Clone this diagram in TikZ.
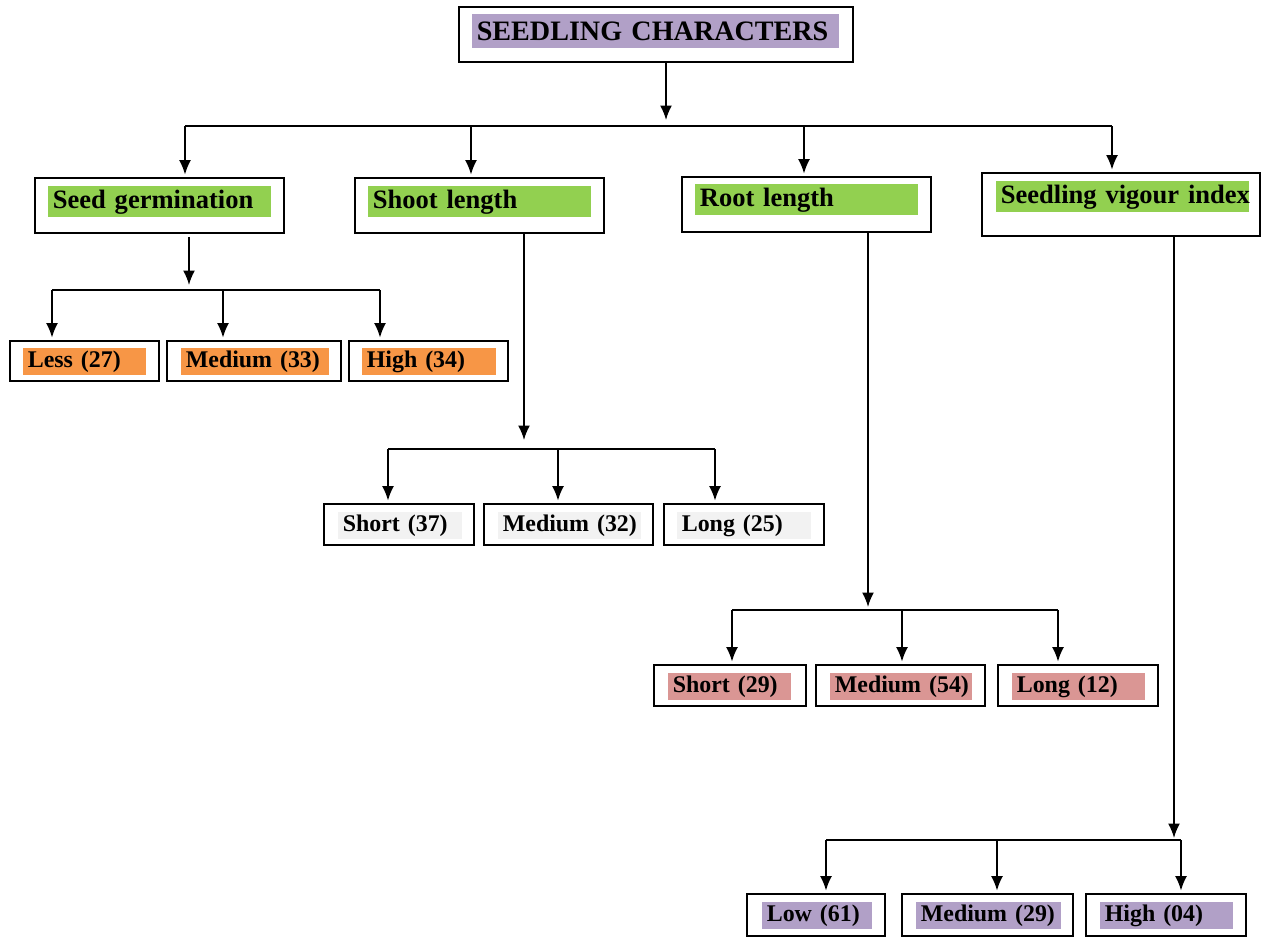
\documentclass[tikz,border=0pt]{standalone}
\usepackage{fontspec}
\setmainfont{Liberation Serif}
\usepackage{tikz}
\usetikzlibrary{positioning,arrows.meta}
\definecolor{headpurple}{HTML}{B1A0C7}
\definecolor{traitgreen}{HTML}{92D050}
\definecolor{gradeorange}{HTML}{F79646}
\definecolor{gradegrey}{HTML}{F2F2F2}
\definecolor{gradepink}{HTML}{DA9694}
\tikzset{
  flowarrow/.style={-{Latex[length=2.9mm, width=2.4mm]}, line width=1pt, shorten >=1.5pt},
  barline/.style={line width=1pt},
  outerbox/.style={draw, line width=0.9pt, fill=white, inner sep=0pt},
  tag/.style={anchor=north west, inner xsep=0.09cm, inner ysep=0pt, align=left,
    execute at begin node={\hyphenpenalty=10000\relax}},
  headtag/.style={tag, fill=headpurple, minimum height=0.68cm, font=\fontsize{16}{18}\selectfont\bfseries},
  traittag/.style={tag, fill=traitgreen, minimum height=0.62cm, font=\fontsize{15.1}{17}\selectfont\bfseries},
  gradetag/.style={tag, minimum height=0.53cm, font=\fontsize{13.6}{15}\selectfont\bfseries}
}

\begin{document}
\begin{tikzpicture}[x=0.02cm, y=-0.02cm, >=Latex]
  \useasboundingbox (0,0) rectangle (1262,937);
  % title
  \node[outerbox, minimum width=7.88cm, minimum height=1.10cm] (top) at (656,34.5) {};
  \node[headtag, text width=7.16cm] (top-t) at (472,14) {SEEDLING~CHARACTERS};

  % characters
  \node[outerbox, minimum width=4.98cm, minimum height=1.10cm] (sg) at (159.5,205.5) {};
  \node[outerbox, minimum width=4.98cm, minimum height=1.10cm] (sl) at (479.5,205.5) {};
  \node[outerbox, minimum width=4.98cm, minimum height=1.10cm] (rl) at (806.5,204.5) {};
  \node[outerbox, minimum width=5.56cm, minimum height=1.26cm] (svi) at (1121,204.5) {};
  \node[traittag, text width=4.28cm] (sg-t) at (48,186) {Seed~germination};
  \node[traittag, text width=4.28cm] (sl-t) at (368,186) {Shoot~length};
  \node[traittag, text width=4.28cm] (rl-t) at (695,184) {Root~length};
  \node[traittag, text width=4.88cm] (svi-t) at (996,181) {Seedling~vigour~index};

  % seed germination classes
  \node[outerbox, minimum width=2.98cm, minimum height=0.80cm] (sgless) at (84.5,361) {};
  \node[outerbox, minimum width=3.48cm, minimum height=0.80cm] (sgmed) at (254,361) {};
  \node[outerbox, minimum width=3.18cm, minimum height=0.80cm] (sghigh) at (428.5,361) {};
  \node[gradetag, fill=gradeorange, text width=2.28cm] (sgless-t) at (23,348) {Less~(27)};
  \node[gradetag, fill=gradeorange, text width=2.78cm] (sgmed-t) at (181,348) {Medium~(33)};
  \node[gradetag, fill=gradeorange, text width=2.50cm] (sghigh-t) at (362,348) {High~(34)};

  % shoot length classes
  \node[outerbox, minimum width=3.00cm, minimum height=0.82cm] (slshort) at (399,524.5) {};
  \node[outerbox, minimum width=3.38cm, minimum height=0.82cm] (slmed) at (568.5,524.5) {};
  \node[outerbox, minimum width=3.20cm, minimum height=0.82cm] (sllong) at (744,524.5) {};
  \node[gradetag, fill=gradegrey, text width=2.30cm] (slshort-t) at (338,512) {Short~(37)};
  \node[gradetag, fill=gradegrey, text width=2.68cm] (slmed-t) at (498,512) {Medium~(32)};
  \node[gradetag, fill=gradegrey, text width=2.50cm] (sllong-t) at (677,512) {Long~(25)};

  % root length classes
  \node[outerbox, minimum width=3.04cm, minimum height=0.82cm] (rlshort) at (730,685.5) {};
  \node[outerbox, minimum width=3.38cm, minimum height=0.82cm] (rlmed) at (900.5,685.5) {};
  \node[outerbox, minimum width=3.20cm, minimum height=0.82cm] (rllong) at (1078,685.5) {};
  \node[gradetag, fill=gradepink, text width=2.28cm] (rlshort-t) at (668,673) {Short~(29)};
  \node[gradetag, fill=gradepink, text width=2.66cm] (rlmed-t) at (830,673) {Medium~(54)};
  \node[gradetag, fill=gradepink, text width=2.48cm] (rllong-t) at (1012,673) {Long~(12)};

  % vigour index classes
  \node[outerbox, minimum width=2.76cm, minimum height=0.84cm] (svilow) at (816,915) {};
  \node[outerbox, minimum width=3.42cm, minimum height=0.84cm] (svimed) at (987.5,915) {};
  \node[outerbox, minimum width=3.20cm, minimum height=0.84cm] (svihigh) at (1166,915) {};
  \node[gradetag, fill=headpurple, text width=2.02cm] (svilow-t) at (762,902) {Low~(61)};
  \node[gradetag, fill=headpurple, text width=2.72cm] (svimed-t) at (916,902) {Medium~(29)};
  \node[gradetag, fill=headpurple, text width=2.48cm] (svihigh-t) at (1100,902) {High~(04)};

  % title to characters
  \coordinate (topbar) at (666,126);
  \coordinate (b1) at (185,126);
  \coordinate (b2) at (471,126);
  \coordinate (b3) at (804,126);
  \coordinate (b4) at (1112,126);
  \draw[flowarrow, shorten >=0.12cm] (topbar |- top.south) -- (topbar);
  \draw[barline] (b1) -- (b4);
  \draw[flowarrow] (b1) -- (b1 |- sg.north);
  \draw[flowarrow] (b2) -- (b2 |- sl.north);
  \draw[flowarrow] (b3) -- (b3 |- rl.north);
  \draw[flowarrow] (b4) -- (b4 |- svi.north);

  % seed germination branches
  \coordinate (sgbar) at (189,290);
  \coordinate (sgL) at (52,290);
  \coordinate (sgM) at (223,290);
  \coordinate (sgR) at (380,290);
  \draw[flowarrow, shorten >=0.1cm] ([yshift=-0.06cm]sgbar |- sg.south) -- (sgbar);
  \draw[barline] (sgL) -- (sgR);
  \draw[flowarrow] (sgL) -- (sgL |- sgless.north);
  \draw[flowarrow] (sgM) -- (sgM |- sgmed.north);
  \draw[flowarrow] (sgR) -- (sgR |- sghigh.north);

  % shoot length branches
  \coordinate (slbar) at (524,449);
  \coordinate (slL) at (388,449);
  \coordinate (slM) at (558,449);
  \coordinate (slR) at (715,449);
  \draw[flowarrow, shorten >=0.18cm] (slbar |- sl.south) -- (slbar);
  \draw[barline] (slL) -- (slR);
  \draw[flowarrow] (slL) -- (slL |- slshort.north);
  \draw[flowarrow] (slM) -- (slM |- slmed.north);
  \draw[flowarrow] (slR) -- (slR |- sllong.north);

  % root length branches
  \coordinate (rlbar) at (868,610);
  \coordinate (rlL) at (732,610);
  \coordinate (rlM) at (902,610);
  \coordinate (rlR) at (1058,610);
  \draw[flowarrow, shorten >=0.06cm] (rlbar |- rl.south) -- (rlbar);
  \draw[barline] (rlL) -- (rlR);
  \draw[flowarrow] (rlL) -- (rlL |- rlshort.north);
  \draw[flowarrow] (rlM) -- (rlM |- rlmed.north);
  \draw[flowarrow] (rlR) -- (rlR |- rllong.north);

  % vigour index branches
  \coordinate (svibar) at (1174,840);
  \coordinate (sviL) at (826,840);
  \coordinate (sviM) at (997,840);
  \coordinate (sviR) at (1181,840);
  \draw[flowarrow, shorten >=0.04cm] (svibar |- svi.south) -- (svibar);
  \draw[barline] (sviL) -- (sviR);
  \draw[flowarrow] (sviL) -- (sviL |- svilow.north);
  \draw[flowarrow] (sviM) -- (sviM |- svimed.north);
  \draw[flowarrow] (sviR) -- (sviR |- svihigh.north);
\end{tikzpicture}
\end{document}
